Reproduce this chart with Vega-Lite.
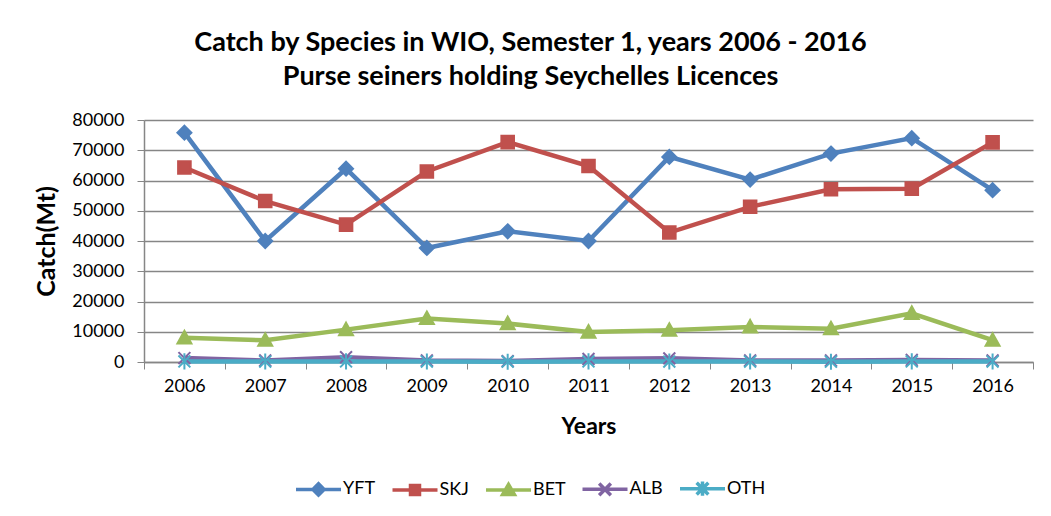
{
  "$schema": "https://vega.github.io/schema/vega-lite/v6.json",
  "width": 889,
  "height": 242,
  "autosize": {"type": "none"},
  "padding": {"left": 144, "top": 120, "right": 18, "bottom": 154},
  "background": "white",
  "config": {
    "view": {"stroke": null},
    "font": "Lato",
    "axis": {"labelFont": "Lato", "titleFont": "Lato", "labelColor": "#000000", "titleColor": "#000000"},
    "legend": {
      "orient": "none",
      "direction": "horizontal",
      "legendX": 150,
      "legendY": 344,
      "labelFont": "Lato",
      "labelFontSize": 18,
      "labelColor": "#000000",
      "labelOffset": 0,
      "columnPadding": 9.5,
      "symbolSize": 2025,
      "symbolStrokeWidth": 3.5,
      "symbolOpacity": 1
    }
  },
  "title": {
    "text": ["Catch by Species in WIO, Semester 1, years 2006 - 2016", "Purse seiners holding  Seychelles Licences"],
    "font": "Lato",
    "fontSize": 27,
    "fontWeight": "bold",
    "color": "#000000",
    "lineHeight": 34,
    "anchor": "middle",
    "dx": -58,
    "offset": 20
  },
  "data": {
    "values": [
      {"year": "2006", "series": "YFT", "catch": 75800},
      {"year": "2007", "series": "YFT", "catch": 40000},
      {"year": "2008", "series": "YFT", "catch": 63900},
      {"year": "2009", "series": "YFT", "catch": 37700},
      {"year": "2010", "series": "YFT", "catch": 43200},
      {"year": "2011", "series": "YFT", "catch": 40000},
      {"year": "2012", "series": "YFT", "catch": 67800},
      {"year": "2013", "series": "YFT", "catch": 60300},
      {"year": "2014", "series": "YFT", "catch": 68900},
      {"year": "2015", "series": "YFT", "catch": 74000},
      {"year": "2016", "series": "YFT", "catch": 56800},
      {"year": "2006", "series": "SKJ", "catch": 64300},
      {"year": "2007", "series": "SKJ", "catch": 53200},
      {"year": "2008", "series": "SKJ", "catch": 45400},
      {"year": "2009", "series": "SKJ", "catch": 63000},
      {"year": "2010", "series": "SKJ", "catch": 72700},
      {"year": "2011", "series": "SKJ", "catch": 64800},
      {"year": "2012", "series": "SKJ", "catch": 42800},
      {"year": "2013", "series": "SKJ", "catch": 51300},
      {"year": "2014", "series": "SKJ", "catch": 57100},
      {"year": "2015", "series": "SKJ", "catch": 57300},
      {"year": "2016", "series": "SKJ", "catch": 72600},
      {"year": "2006", "series": "BET", "catch": 8000},
      {"year": "2007", "series": "BET", "catch": 7200},
      {"year": "2008", "series": "BET", "catch": 10700},
      {"year": "2009", "series": "BET", "catch": 14400},
      {"year": "2010", "series": "BET", "catch": 12700},
      {"year": "2011", "series": "BET", "catch": 9900},
      {"year": "2012", "series": "BET", "catch": 10500},
      {"year": "2013", "series": "BET", "catch": 11600},
      {"year": "2014", "series": "BET", "catch": 11000},
      {"year": "2015", "series": "BET", "catch": 16100},
      {"year": "2016", "series": "BET", "catch": 7200},
      {"year": "2006", "series": "ALB", "catch": 1300},
      {"year": "2007", "series": "ALB", "catch": 500},
      {"year": "2008", "series": "ALB", "catch": 1600},
      {"year": "2009", "series": "ALB", "catch": 500},
      {"year": "2010", "series": "ALB", "catch": 300},
      {"year": "2011", "series": "ALB", "catch": 1000},
      {"year": "2012", "series": "ALB", "catch": 1200},
      {"year": "2013", "series": "ALB", "catch": 500},
      {"year": "2014", "series": "ALB", "catch": 500},
      {"year": "2015", "series": "ALB", "catch": 700},
      {"year": "2016", "series": "ALB", "catch": 500},
      {"year": "2006", "series": "OTH", "catch": 200},
      {"year": "2007", "series": "OTH", "catch": 150},
      {"year": "2008", "series": "OTH", "catch": 200},
      {"year": "2009", "series": "OTH", "catch": 150},
      {"year": "2010", "series": "OTH", "catch": 100},
      {"year": "2011", "series": "OTH", "catch": 200},
      {"year": "2012", "series": "OTH", "catch": 150},
      {"year": "2013", "series": "OTH", "catch": 150},
      {"year": "2014", "series": "OTH", "catch": 100},
      {"year": "2015", "series": "OTH", "catch": 200},
      {"year": "2016", "series": "OTH", "catch": 150}
    ]
  },
  "encoding": {
    "x": {
      "field": "year",
      "type": "ordinal",
      "bandPosition": 0.5,
      "scale": {"type": "band", "paddingInner": 0, "paddingOuter": 0},
      "axis": {
        "title": "Years",
        "titleFontSize": 23,
        "titleFontWeight": "bold",
        "titlePadding": 20,
        "labelAngle": 0,
        "labelFontSize": 18,
        "labelPadding": 8,
        "tickBand": "extent",
        "tickSize": 7,
        "tickColor": "#868686",
        "domainColor": "#868686",
        "domainWidth": 1.5,
        "grid": false
      }
    },
    "y": {
      "field": "catch",
      "type": "quantitative",
      "scale": {"domain": [0, 80000], "nice": false},
      "axis": {
        "title": "Catch(Mt)",
        "titleFontSize": 25,
        "titleFontWeight": "bold",
        "titlePadding": 12,
        "values": [0, 10000, 20000, 30000, 40000, 50000, 60000, 70000, 80000],
        "format": "d",
        "labelFontSize": 18,
        "labelPadding": 13,
        "tickSize": 7,
        "tickColor": "#868686",
        "domainColor": "#868686",
        "domainWidth": 1.5,
        "grid": true,
        "gridColor": "#868686",
        "gridWidth": 1.5
      }
    }
  },
  "layer": [
    {
      "mark": {"type": "line", "strokeWidth": 4.5},
      "encoding": {
        "color": {"field": "series", "type": "nominal", "sort": ["YFT", "SKJ", "BET", "ALB", "OTH"], "scale": {"domain": ["YFT", "SKJ", "BET", "ALB", "OTH"], "range": ["#4F81BD", "#C0504D", "#9BBB59", "#8064A2", "#4BACC6"]}, "legend": {"title": null}}
      }
    },
    {
      "transform": [{"filter": "datum.series === 'YFT'"}],
      "mark": {"type": "point", "filled": true, "size": 196, "strokeWidth": 2, "opacity": 1, "shape": "M0,-1L1,0L0,1L-1,0Z"},
      "encoding": {
        "color": {"field": "series", "type": "nominal", "sort": ["YFT", "SKJ", "BET", "ALB", "OTH"], "legend": {"title": null}},
        "stroke": {"field": "series", "type": "nominal", "sort": ["YFT", "SKJ", "BET", "ALB", "OTH"], "scale": {"domain": ["YFT", "SKJ", "BET", "ALB", "OTH"], "range": ["#4F81BD", "#C0504D", "#9BBB59", "#8064A2", "#4BACC6"]}, "legend": {"title": null}}
      }
    },
    {
      "transform": [{"filter": "datum.series === 'SKJ'"}],
      "mark": {"type": "point", "filled": true, "size": 196, "strokeWidth": 2, "opacity": 1, "shape": "M-0.9,-0.9H0.9V0.9H-0.9Z"},
      "encoding": {
        "color": {"field": "series", "type": "nominal", "sort": ["YFT", "SKJ", "BET", "ALB", "OTH"], "legend": {"title": null}},
        "stroke": {"field": "series", "type": "nominal", "sort": ["YFT", "SKJ", "BET", "ALB", "OTH"], "legend": {"title": null}}
      }
    },
    {
      "transform": [{"filter": "datum.series === 'BET'"}],
      "mark": {"type": "point", "filled": true, "size": 196, "strokeWidth": 2, "opacity": 1, "shape": "M0,-1L1,0.8L-1,0.8Z"},
      "encoding": {
        "color": {"field": "series", "type": "nominal", "sort": ["YFT", "SKJ", "BET", "ALB", "OTH"], "legend": {"title": null}},
        "stroke": {"field": "series", "type": "nominal", "sort": ["YFT", "SKJ", "BET", "ALB", "OTH"], "legend": {"title": null}}
      }
    },
    {
      "transform": [{"filter": "datum.series === 'ALB'"}],
      "mark": {"type": "point", "filled": false, "size": 196, "strokeWidth": 2, "opacity": 1, "shape": "M-0.85,-0.85L0.85,0.85M-0.85,0.85L0.85,-0.85"},
      "encoding": {
        "stroke": {"field": "series", "type": "nominal", "sort": ["YFT", "SKJ", "BET", "ALB", "OTH"], "legend": {"title": null}}
      }
    },
    {
      "transform": [{"filter": "datum.series === 'OTH'"}],
      "mark": {"type": "point", "filled": false, "size": 196, "strokeWidth": 2, "opacity": 1, "shape": "M-0.85,-0.85L0.85,0.85M-0.85,0.85L0.85,-0.85M0,-1.15V1.15"},
      "encoding": {
        "stroke": {"field": "series", "type": "nominal", "sort": ["YFT", "SKJ", "BET", "ALB", "OTH"], "legend": {"title": null}}
      }
    },
    {
      "mark": {"type": "point", "filled": true, "size": 2025, "strokeWidth": 3.5, "opacity": 0},
      "encoding": {
        "color": {"field": "series", "type": "nominal", "sort": ["YFT", "SKJ", "BET", "ALB", "OTH"], "legend": {"title": null}},
        "stroke": {"field": "series", "type": "nominal", "sort": ["YFT", "SKJ", "BET", "ALB", "OTH"], "legend": {"title": null}},
        "shape": {
          "field": "series", "type": "nominal", "sort": ["YFT", "SKJ", "BET", "ALB", "OTH"],
          "scale": {
            "domain": ["YFT", "SKJ", "BET", "ALB", "OTH"],
            "range": [
              "M-1,0H1M0,-0.25L0.25,0L0,0.25L-0.25,0Z",
              "M-1,0H1M-0.2,-0.2H0.2V0.2H-0.2Z",
              "M-1,0H1M0,-0.25L0.26,0.19L-0.26,0.19Z",
              "M-1,0H1M-0.26,-0.26L0.26,0.26M-0.26,0.26L0.26,-0.26",
              "M-1,0H1M-0.26,-0.26L0.26,0.26M-0.26,0.26L0.26,-0.26M0,-0.32V0.32"
            ]
          },
          "legend": {"title": null}
        }
      }
    }
  ]
}
